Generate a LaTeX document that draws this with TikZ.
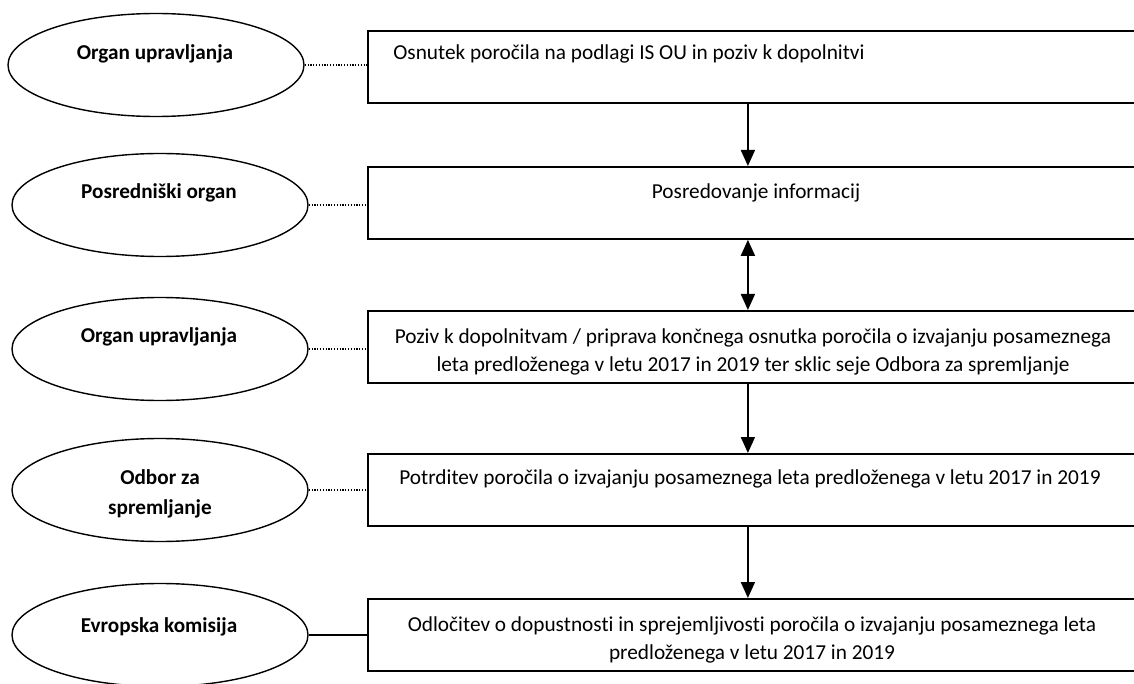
\documentclass[tikz,border=0pt]{standalone}
\usepackage{fontspec}
\setmainfont{Carlito}[Ligatures=NoCommon]
\usetikzlibrary{arrows.meta,shapes.geometric}

\tikzset{
  organ/.style={draw,ellipse,line width=1.4pt,minimum width=296pt,minimum height=103pt,inner sep=0pt},
  korak/.style={draw,rectangle,line width=1.8pt,minimum width=790pt,minimum height=72pt,anchor=north west,inner sep=0pt},
  otxt/.style={font=\fontsize{21.2}{30}\selectfont\bfseries,align=center,anchor=base,inner sep=0pt},
  ktxt/.style={font=\fontsize{21.3}{27.5}\selectfont,align=center,anchor=base,inner sep=0pt},
  vez/.style={line width=1.2pt,dash pattern=on 1.2pt off 1.6pt},
  tok/.style={line width=1.8pt,-{Triangle[width=14pt,length=16pt]}},
}

\begin{document}
\begin{tikzpicture}[x=1pt,y=-1pt]
     \useasboundingbox (0,0) rectangle (1134,684);
     % organi
     \node[organ] (e1) at (156,65) {};
     \node[organ] (e2) at (160,205) {};
     \node[organ] (e3) at (160,349) {};
     \node[organ] (e4) at (160,490) {};
     \node[organ] (e5) at (160,635) {};
     \node[otxt] (o1) at (155,60) {Organ upravljanja};
     \node[otxt] (o2) at (159,199) {Posredniški organ};
     \node[otxt] (o3) at (159,342) {Organ upravljanja};
     \node[otxt] (o4) at (160,514) {Odbor za\\spremljanje};
     \node[otxt] (o5) at (159,632) {Evropska komisija};
     % koraki
     \node[korak] (b1) at (367,30) {};
     \node[korak] (b2) at (367,166) {};
     \node[korak] (b3) at (367,310) {};
     \node[korak] (b4) at (367,453) {};
     \node[korak] (b5) at (367,598) {};
     \node[ktxt] (t1) at (629,60) {Osnutek poročila na podlagi IS OU in poziv k dopolnitvi};
     \node[ktxt] (t2) at (756,199) {Posredovanje informacij};
     \node[ktxt] (t3) at (753,371) {Poziv k dopolnitvam / priprava končnega osnutka poročila o izvajanju posameznega\\leta predloženega v letu 2017 in 2019 ter sklic seje Odbora za spremljanje};
     \node[ktxt] (t4) at (750,484) {Potrditev poročila o izvajanju posameznega leta predloženega v letu 2017 in 2019};
     \node[ktxt] (t5) at (752,659) {Odločitev o dopustnosti in sprejemljivosti poročila o izvajanju posameznega leta\\predloženega v letu 2017 in 2019};
     % povezave
     \foreach \i in {1,...,4}
      \draw[vez] (e\i.east) -- (e\i.east -| b\i.west);
     \draw[line width=1.4pt] (e5.east) -- (e5.east -| b5.west);
     \draw[tok] ([xshift=-15pt]b1.south) -- ([xshift=-15pt]b2.north);
     \draw[tok,{Triangle[width=14pt,length=16pt]}-{Triangle[width=14pt,length=16pt]}] ([xshift=-15pt]b2.south) -- ([xshift=-15pt]b3.north);
     \draw[tok] ([xshift=-15pt]b3.south) -- ([xshift=-15pt]b4.north);
     \draw[tok] ([xshift=-15pt]b4.south) -- ([xshift=-15pt]b5.north);
    \end{tikzpicture}
\end{document}
